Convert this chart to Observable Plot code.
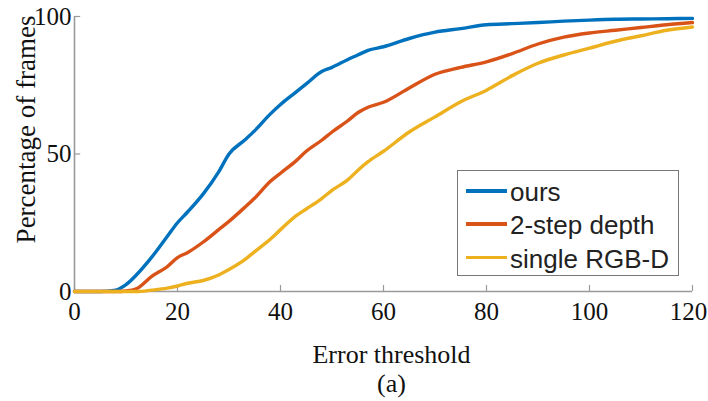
<!DOCTYPE html>
<html>
<head>
<meta charset="utf-8">
<script src="https://cdn.jsdelivr.net/npm/d3@7"></script>
<script src="https://cdn.jsdelivr.net/npm/@observablehq/plot@0.6"></script>
<style>
  html, body { margin: 0; padding: 0; background: #fff; }
  #wrap { position: relative; width: 708px; height: 401px; }
  #legend { position: absolute; left: 457px; top: 170px; width: 222px; height: 106px;
            border: 1px solid #777; background: #fff; box-sizing: border-box;
            font-family: "Liberation Sans", Arial, sans-serif; font-size: 26px; color: #222; }
  .row { position: absolute; left: 0; height: 34px; line-height: 34px; white-space: nowrap; }
  .swatch { position: absolute; left: 8px; width: 41px; height: 3.5px; top: 14px; }
  .lab { position: absolute; left: 52px; top: 0; }
</style>
</head>
<body>
<div id="wrap"><div id="chart"></div><div id="legend"></div></div>
<script>
const thresholds = [0,5,8,10,12,15,18,20,22,25,28,30,33,35,38,40,43,45,48,50,53,55,57,60,65,70,75,80,85,90,95,100,105,110,115,120];
const ours = [0,0,0.5,2.5,6,12.5,20,25,29,35.5,43.5,50,55,58.5,64.5,68,72.5,75.5,80,81.5,84.3,86,87.7,89,92,94.3,95.6,97,97.4,97.8,98.3,98.7,99,99.1,99.2,99.3];
const twoStep = [0,0,0,0.2,1,5.5,9,12.3,14.2,18,22.5,25.5,30.5,34,40,43,47.5,51,55,58,62,65,67,68.8,74,79,81.5,83.5,86.5,90,92.5,94,95,96,97,97.8];
const singleRGBD = [0,0,0,0,0,0.5,1.2,2,3,4,6,8,11.5,14.5,19,22.5,27.5,30,33.8,36.8,40.5,44,47.2,51,58,63.5,69,73.2,78.5,83,86,88.5,91,93,95,96.2];
const seriesNames = ["ours", "2-step depth", "single RGB-D"];
const seriesColors = ["#0072BD", "#D95319", "#EDB120"];
const xTicks = [0,20,40,60,80,100,120];
const yTicks = [0,50,100];

const seriesValues = [ours, twoStep, singleRGBD];
const data = [];
seriesNames.forEach((name, s) => {
  thresholds.forEach((t, i) => data.push({series: name, x: t, y: seriesValues[s][i]}));
});

const axisGray = "#9a9a9a";
const chart = Plot.plot({
  width: 708,
  height: 401,
  marginLeft: 74,
  marginRight: 16,
  marginTop: 16,
  marginBottom: 110,
  style: {fontFamily: "'Liberation Serif', 'Times New Roman', serif", fontSize: "25px", color: "#111", background: "#fff", overflow: "visible"},
  x: {domain: [0, 120]},
  y: {domain: [0, 100]},
  color: {domain: seriesNames, range: seriesColors},
  marks: [
    Plot.axisX({ticks: xTicks.slice(0, -1), tickSize: 0, tickPadding: 11, label: null, fontSize: 25}),
    Plot.axisX({ticks: xTicks.slice(-1), tickSize: 0, tickPadding: 11, label: null, fontSize: 25, dx: -4}),
    Plot.axisY({ticks: yTicks, tickSize: 0, tickPadding: 3, label: null, fontSize: 25}),
    Plot.ruleX(xTicks, {y1: 0, y2: 2.2, stroke: axisGray, strokeWidth: 1.2}),
    Plot.ruleY(yTicks, {x1: 0, x2: 1.2, stroke: axisGray, strokeWidth: 1.2}),
    Plot.ruleX([0], {stroke: axisGray, strokeWidth: 1.6}),
    Plot.ruleY([0], {stroke: axisGray, strokeWidth: 1.6}),
    Plot.line(data, {x: "x", y: "y", z: "series", stroke: "series", strokeWidth: 3.4, curve: "monotone-x"}),
    Plot.text(["Percentage of frames"], {text: d => d, frameAnchor: "top-left", lineAnchor: "middle", textAnchor: "end", rotate: -90, dx: -48, dy: -1, fontSize: 27}),
    Plot.text(["Error threshold"], {text: d => d, frameAnchor: "bottom", lineAnchor: "middle", dx: 8, dy: 63, fontSize: 26}),
    Plot.text(["(a)"], {text: d => d, frameAnchor: "bottom", lineAnchor: "middle", dx: 8, dy: 92, fontSize: 26})
  ]
});
document.getElementById("chart").appendChild(chart);

const legend = document.getElementById("legend");
seriesNames.forEach((name, i) => {
  const row = document.createElement("div");
  row.className = "row";
  row.style.top = (4 + i * 33.3) + "px";
  const sw = document.createElement("div");
  sw.className = "swatch";
  sw.style.background = seriesColors[i];
  const lab = document.createElement("span");
  lab.className = "lab";
  lab.textContent = name;
  row.appendChild(sw);
  row.appendChild(lab);
  legend.appendChild(row);
});
</script>
</body>
</html>
